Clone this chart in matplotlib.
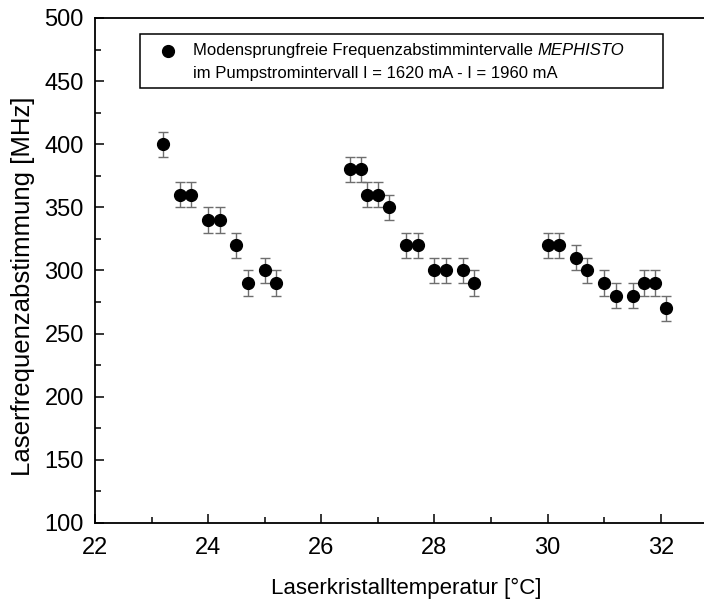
import numpy as np
from matplotlib import pyplot as plt
from matplotlib.patches import Rectangle
from matplotlib.ticker import MultipleLocator

plt.rcParams["font.family"] = ["Liberation Sans", "DejaVu Sans"]

# temperature [°C] and tuning range [MHz], three mode-hop-free groups
temp_a = [23.2, 23.5, 23.7, 24.0, 24.2, 24.5, 24.7, 25.0, 25.2]
freq_a = [400, 360, 360, 340, 340, 320, 290, 300, 290]
temp_b = [26.5, 26.7, 26.8, 27.0, 27.2, 27.5, 27.7, 28.0, 28.2, 28.5, 28.7]
freq_b = [380, 380, 360, 360, 350, 320, 320, 300, 300, 300, 290]
temp_c = [30.0, 30.2, 30.5, 30.7, 31.0, 31.2, 31.5, 31.7, 31.9, 32.1]
freq_c = [320, 320, 310, 300, 290, 280, 280, 290, 290, 270]
err = 10

legend_line1 = "Modensprungfreie Frequenzabstimmintervalle "
legend_italic = "MEPHISTO"
legend_line2 = "im Pumpstromintervall I = 1620 mA - I = 1960 mA"

temp = np.array(temp_a + temp_b + temp_c)
freq = np.array(freq_a + freq_b + freq_c)

fig = plt.figure(figsize=(7.04, 6.03), dpi=100)
ax = fig.add_axes([0.135, 0.1327, 0.884, 0.8375])

ax.errorbar(temp, freq, yerr=err, fmt="o", color="black", markersize=8.5,
            ecolor="#6e6e6e", elinewidth=1.0, capsize=3.4, capthick=1.0)

ax.set_xlim(22, 33)
ax.set_ylim(100, 500)
ax.xaxis.set_major_locator(MultipleLocator(2))
ax.xaxis.set_minor_locator(MultipleLocator(1))
ax.yaxis.set_major_locator(MultipleLocator(50))
ax.yaxis.set_minor_locator(MultipleLocator(25))
ax.tick_params(which="both", direction="in", top=False, right=False,
               labelsize=17, width=1.1)
ax.tick_params(which="major", length=6.5)
ax.tick_params(axis="x", which="major", pad=10)
ax.tick_params(axis="y", which="major", pad=8)
ax.tick_params(which="minor", length=4)
for s in ax.spines.values():
    s.set_linewidth(1.3)

ax.set_xlabel("Laserkristalltemperatur [°C]", fontsize=16, labelpad=14)
ax.set_ylabel("Laserfrequenzabstimmung [MHz]", fontsize=18.5)
ax.yaxis.set_label_coords(-0.097, 0.469)

# legend box drawn by hand
ax.add_patch(Rectangle((0.0723, 0.861), 0.84, 0.107, transform=ax.transAxes,
                       facecolor="white", edgecolor="black", linewidth=1.1))
ax.plot([0.1167], [0.935], "o", color="black", markersize=8.5,
        transform=ax.transAxes)
t1 = ax.text(0.158, 0.935, legend_line1, transform=ax.transAxes,
             fontsize=12, va="center", ha="left")
ax.annotate(legend_italic, xy=(1, 0), xycoords=t1, va="bottom", ha="left",
            fontsize=12, style="italic")
ax.text(0.158, 0.89, legend_line2, transform=ax.transAxes,
        fontsize=12, va="center", ha="left")

fig.savefig("out.png", dpi=100)
